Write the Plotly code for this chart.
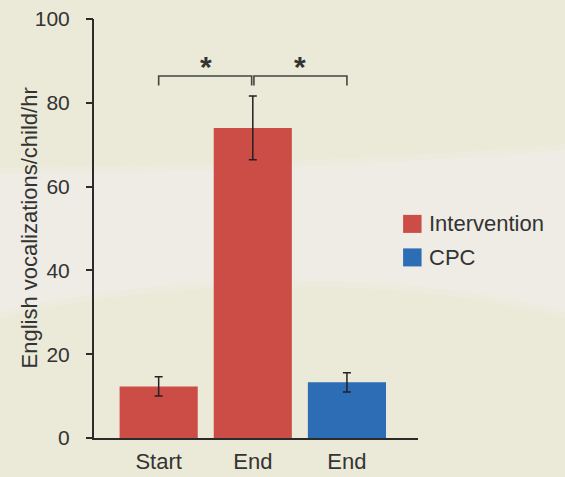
import plotly.graph_objects as go

# ---- data ----
categories = ["Start", "End", "End"]
series_names = ["Intervention", "CPC"]
series_colors = ["#CC4D46", "#2D6DB5"]
intervention_x = [0, 1]
intervention_values = [12.3, 74.0]
intervention_err = [2.3, 7.6]
cpc_x = [2]
cpc_values = [13.3]
cpc_err = [2.3]
y_ticks = [0, 20, 40, 60, 80, 100]
y_title = "English vocalizations/child/hr"
comparisons = [(0, 1), (1, 2)]   # significant pairs
comparison_labels = ["*", "*"]
bracket_level = 86.4

AXIS = "#2b2b2b"
TXT = "#333333"
FONT = "Liberation Sans, Arial, Helvetica, sans-serif"

fig = go.Figure()

fig.add_trace(go.Bar(
    x=intervention_x, y=intervention_values, name=series_names[0],
    marker=dict(color=series_colors[0], line=dict(width=0)),
    width=0.83,
    error_y=dict(type="data", array=intervention_err, color="#222222",
                 thickness=1.5, width=4),
    showlegend=False,
))
fig.add_trace(go.Bar(
    x=cpc_x, y=cpc_values, name=series_names[1],
    marker=dict(color=series_colors[1], line=dict(width=0)),
    width=0.83,
    error_y=dict(type="data", array=cpc_err, color="#222222",
                 thickness=1.5, width=4),
    showlegend=False,
))
# invisible trace to bind the tick-only overlay axis
fig.add_trace(go.Scatter(x=[None], y=[None], yaxis="y2", showlegend=False,
                         hoverinfo="skip"))

shapes = []
# background light band (soft edge + core)
shapes.append(dict(
    type="path", xref="paper", yref="paper", layer="below",
    path="M -0.35 0.645 C 0.3 0.65, 0.9 0.665, 1.5 0.705 L 1.5 0.276 C 1.0 0.39, 0.2 0.39, -0.35 0.272 Z",
    fillcolor="#EEECE3", line=dict(width=0), opacity=0.55,
))
shapes.append(dict(
    type="path", xref="paper", yref="paper", layer="below",
    path="M -0.35 0.630 C 0.3 0.635, 0.9 0.65, 1.5 0.69 L 1.5 0.291 C 1.0 0.405, 0.2 0.405, -0.35 0.287 Z",
    fillcolor="#EEECE4", line=dict(width=0), opacity=1.0,
))

# brackets
drop = 2.3
annotations = []
for (a, b), lab in zip(comparisons, comparison_labels):
    off = 0.012
    xa = a + (off if a == 1 else 0)
    xb = b - (off if b == 1 else 0)
    shapes.append(dict(
        type="path", xref="x", yref="y",
        path=f"M {xa} {bracket_level - drop} L {xa} {bracket_level} L {xb} {bracket_level} L {xb} {bracket_level - drop}",
        line=dict(color="#444444", width=1.6),
    ))
    annotations.append(dict(
        x=(a + b) / 2, y=bracket_level - 2.2, xref="x", yref="y",
        text="<b>" + lab + "</b>", showarrow=False, yanchor="bottom",
        font=dict(family=FONT, size=30, color="#333333"),
    ))

# manual legend
leg_y = [0.511, 0.431]
for name, col, ly in zip(series_names, series_colors, leg_y):
    shapes.append(dict(
        type="rect", xref="paper", yref="paper",
        x0=0.954, x1=1.011, y0=ly - 0.0215, y1=ly + 0.0215,
        fillcolor=col, line=dict(width=0),
    ))
    annotations.append(dict(
        x=1.027, y=ly, xref="paper", yref="paper", text=name,
        showarrow=False, xanchor="left", yanchor="middle",
        font=dict(family=FONT, size=22, color=TXT),
    ))

# y-axis title as rotated annotation
annotations.append(dict(
    x=-0.2006, y=0.5, xref="paper", yref="paper", text=y_title,
    showarrow=False, textangle=-90, xanchor="center", yanchor="middle",
    font=dict(family=FONT, size=22, color=TXT),
))

fig.update_layout(
    width=565, height=477,
    margin=dict(l=94, r=147, t=19, b=39, autoexpand=False),
    paper_bgcolor="#EBE9D7",
    plot_bgcolor="rgba(0,0,0,0)",
    barmode="overlay",
    font=dict(family=FONT, size=21, color=TXT),
    shapes=shapes,
    annotations=annotations,
    xaxis=dict(
        range=[-0.687, 2.755],
        tickvals=[0, 1, 2], ticktext=categories,
        showline=True, linecolor=AXIS, linewidth=2,
        ticks="", showgrid=False, zeroline=False,
        ticklabelstandoff=3, automargin=False,
        tickfont=dict(size=22, color=TXT),
    ),
    yaxis=dict(
        range=[0, 100], tickvals=y_ticks,
        showline=True, linecolor=AXIS, linewidth=2,
        ticks="outside", ticklen=18, tickwidth=1, tickcolor="rgba(0,0,0,0)",
        showgrid=False, zeroline=False, automargin=False,
        tickfont=dict(size=21, color=TXT),
    ),
    yaxis2=dict(
        overlaying="y", side="left", range=[0, 100], tickvals=y_ticks,
        showline=False, showticklabels=False,
        ticks="outside", ticklen=7, tickwidth=1.5, tickcolor=AXIS,
        showgrid=False, zeroline=False, automargin=False,
    ),
)

fig.write_html("out.html", config={"displayModeBar": False},
               post_script="document.body.style.margin='0';")
